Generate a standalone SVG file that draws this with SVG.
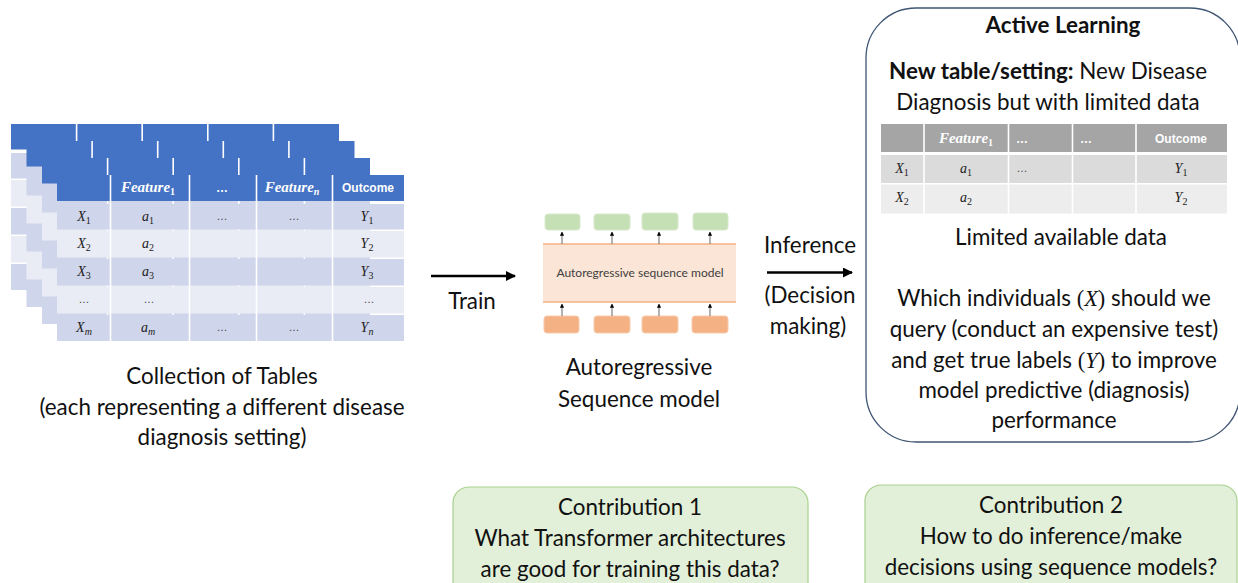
<svg xmlns="http://www.w3.org/2000/svg" width="1238" height="583" viewBox="0 0 1238 583">
<defs>
<style>
.t{font-family:Lato,"Liberation Sans",sans-serif;fill:#111;text-anchor:middle;font-size:22.4px}
.m{font-family:"Liberation Serif",serif;font-style:italic;fill:#222;text-anchor:middle;font-size:14px}
.m tspan,.mh tspan{font-style:normal}
.m tspan.i,.mh tspan.i{font-style:italic}
.mh{font-family:"Liberation Serif",serif;font-style:italic;font-weight:bold;fill:#fff;text-anchor:middle;font-size:15px}
.hb{font-family:"Liberation Sans",sans-serif;font-weight:bold;fill:#fff;text-anchor:middle;font-size:12px}
.dots{font-family:"Liberation Sans",sans-serif;fill:#444;text-anchor:middle;font-size:11px}
.hdr{fill:#4472C4}
.dk{fill:#CFD5EA}
.lt{fill:#E9EBF5}
.sep{stroke:#fff;stroke-width:1.6}
.green{fill:#C5E0B4;stroke:#D6E9CB;stroke-width:1}
.orange{fill:#F4B183;stroke:#F8CBAD;stroke-width:1}
.small{stroke:#808080;stroke-width:1.2;fill:none}
.big{stroke:#000;stroke-width:2.5;fill:none}
.contrib{fill:#E2F0D9;stroke:#A9D18E;stroke-width:1.2}
</style>
<marker id="ah" viewBox="0 0 10 10" refX="9" refY="5" markerWidth="4" markerHeight="4" orient="auto"><path d="M0,0 L10,5 L0,10 z" fill="#000"/></marker>
<marker id="as" viewBox="0 0 10 10" refX="9" refY="5" markerWidth="3.5" markerHeight="3.5" orient="auto"><path d="M0,0 L10,5 L0,10 z" fill="#000"/></marker>
<g id="backTable">
<rect class="hdr" x="0" y="0" width="328" height="25.5"/>
<rect class="dk" x="0" y="29" width="328" height="25.5"/>
<rect class="lt" x="0" y="56" width="328" height="26.5"/>
<rect class="dk" x="0" y="84" width="328" height="26.5"/>
<rect class="lt" x="0" y="112" width="328" height="26.5"/>
<rect class="dk" x="0" y="140" width="328" height="26"/>
<path class="sep" d="M65.6,0V166M131.2,0V166M196.8,0V166M262.4,0V166"/>
</g>
</defs>
<rect width="1238" height="583" fill="#fff"/>

<g id="tables">
<use href="#backTable" x="11" y="124"/>
<use href="#backTable" x="26.5" y="141"/>
<use href="#backTable" x="42" y="158"/>
<g id="frontTable">
<rect class="hdr" x="57" y="175" width="347" height="26"/>
<rect class="dk" x="57" y="204" width="347" height="25.5"/>
<rect class="lt" x="57" y="231" width="347" height="26.5"/>
<rect class="dk" x="57" y="259" width="347" height="26.5"/>
<rect class="lt" x="57" y="287" width="347" height="26.5"/>
<rect class="dk" x="57" y="315" width="347" height="26"/>
<path class="sep" d="M110.5,175V341M189.5,175V341M256.5,175V341M332.5,175V341"/>
<text class="mh" x="148" y="192">Feature<tspan font-size="10" dy="3">1</tspan></text>
<text class="hb" x="222" y="192">…</text>
<text class="mh" x="292" y="192">Feature<tspan class="i" font-size="10" dy="3">n</tspan></text>
<text class="hb" x="368" y="192">Outcome</text>
<text class="m" x="84" y="221">X<tspan font-size="10" dy="3">1</tspan></text>
<text class="m" x="148" y="221">a<tspan font-size="10" dy="3">1</tspan></text>
<text class="dots" x="222" y="220">…</text>
<text class="dots" x="294" y="220">…</text>
<text class="m" x="367" y="221">Y<tspan font-size="10" dy="3">1</tspan></text>
<text class="m" x="84" y="248">X<tspan font-size="10" dy="3">2</tspan></text>
<text class="m" x="148" y="248">a<tspan font-size="10" dy="3">2</tspan></text>
<text class="m" x="367" y="248">Y<tspan font-size="10" dy="3">2</tspan></text>
<text class="m" x="84" y="276">X<tspan font-size="10" dy="3">3</tspan></text>
<text class="m" x="148" y="276">a<tspan font-size="10" dy="3">3</tspan></text>
<text class="m" x="367" y="276">Y<tspan font-size="10" dy="3">3</tspan></text>
<text class="dots" x="84" y="303">…</text>
<text class="dots" x="149" y="303">…</text>
<text class="dots" x="369" y="303">…</text>
<text class="m" x="84" y="332">X<tspan class="i" font-size="10" dy="3">m</tspan></text>
<text class="m" x="148" y="332">a<tspan class="i" font-size="10" dy="3">m</tspan></text>
<text class="dots" x="222" y="331">…</text>
<text class="dots" x="294" y="331">…</text>
<text class="m" x="367" y="332">Y<tspan class="i" font-size="10" dy="3">n</tspan></text>
</g>
<text class="t" x="222" y="384">Collection of Tables</text>
<text class="t" x="222" y="415">(each representing a different disease</text>
<text class="t" x="222" y="445">diagnosis setting)</text>
</g>

<g id="model">
<rect x="543" y="244" width="193" height="58" fill="#FBE5D6"/>
<path d="M543,244H736M543,302H736" stroke="#F4B183" stroke-width="1.5"/>
<text x="640" y="277" font-family="Lato,'Liberation Sans',sans-serif" font-size="12" fill="#404040" text-anchor="middle">Autoregressive sequence model</text>
<rect class="green" x="545" y="214" width="35" height="16" rx="3"/>
<rect class="green" x="594" y="214" width="36" height="16" rx="3"/>
<rect class="green" x="642" y="213" width="36" height="17" rx="3"/>
<rect class="green" x="693" y="213" width="35" height="17" rx="3"/>
<rect class="orange" x="544" y="316" width="35" height="17" rx="3"/>
<rect class="orange" x="594" y="316" width="36" height="17" rx="3"/>
<rect class="orange" x="642" y="316" width="36" height="17" rx="3"/>
<rect class="orange" x="692" y="316" width="36" height="17" rx="3"/>
<text class="t" x="639" y="375">Autoregressive</text>
<text class="t" x="639" y="407">Sequence model</text>
</g>

<g id="activeLearning">
<rect x="866" y="8" width="374" height="434" rx="50" ry="50" fill="#fff" stroke="#3F5573" stroke-width="1.3"/>
<text class="t" font-weight="bold" x="1063" y="33">Active Learning</text>
<text class="t" x="1048" y="79"><tspan font-weight="bold">New table/setting:</tspan> New Disease</text>
<text class="t" x="1048" y="110">Diagnosis but with limited data</text>
<g id="smallTable">
<rect x="881" y="124" width="346" height="28" fill="#A5A5A5"/>
<rect x="881" y="155" width="346" height="28" fill="#DBDBDB"/>
<rect x="881" y="184.5" width="346" height="29" fill="#EDEDED"/>
<path class="sep" d="M924,124V214M1008.5,124V214M1072.5,124V214M1136,124V214"/>
<text class="mh" x="966" y="143">Feature<tspan font-size="10" dy="3">1</tspan></text>
<text class="hb" x="1022" y="143">…</text>
<text class="hb" x="1086" y="143">…</text>
<text class="hb" font-size="13.5" x="1181" y="143">Outcome</text>
<text class="m" x="902" y="173">X<tspan font-size="10" dy="3">1</tspan></text>
<text class="m" x="966" y="173">a<tspan font-size="10" dy="3">1</tspan></text>
<text class="dots" x="1022" y="172">…</text>
<text class="m" x="1181" y="173">Y<tspan font-size="10" dy="3">1</tspan></text>
<text class="m" x="902" y="202">X<tspan font-size="10" dy="3">2</tspan></text>
<text class="m" x="966" y="202">a<tspan font-size="10" dy="3">2</tspan></text>
<text class="m" x="1181" y="202">Y<tspan font-size="10" dy="3">2</tspan></text>
</g>
<text class="t" x="1061" y="245">Limited available data</text>
<text class="t" x="1054" y="306">Which individuals <tspan font-family="'Liberation Serif',serif">(<tspan font-style="italic">X</tspan>)</tspan> should we</text>
<text class="t" x="1054" y="337">query (conduct an expensive test)</text>
<text class="t" x="1054" y="368">and get true labels <tspan font-family="'Liberation Serif',serif">(<tspan font-style="italic">Y</tspan>)</tspan> to improve</text>
<text class="t" x="1054" y="398">model predictive (diagnosis)</text>
<text class="t" x="1054" y="428">performance</text>
</g>

<g id="contribution1">
<rect class="contrib" x="453" y="487" width="355" height="115" rx="16"/>
<text class="t" x="630" y="515">Contribution 1</text>
<text class="t" x="630" y="546">What Transformer architectures</text>
<text class="t" x="630" y="577">are good for training this data?</text>
</g>
<g id="contribution2">
<rect class="contrib" x="865" y="485" width="372" height="115" rx="16"/>
<text class="t" x="1051" y="513">Contribution 2</text>
<text class="t" x="1051" y="544">How to do inference/make</text>
<text class="t" x="1051" y="575">decisions using sequence models?</text>
</g>

<g id="labels">
<text class="t" x="472" y="309">Train</text>
<text class="t" x="810" y="253">Inference</text>
<text class="t" x="810" y="303">(Decision</text>
<text class="t" x="808" y="334">making)</text>
</g>

<g id="connectors">
<path class="big" d="M431,276H515" marker-end="url(#ah)"/>
<path class="big" d="M767,272.5H852" marker-end="url(#ah)"/>
<path class="small" d="M562,244V232" marker-end="url(#as)"/>
<path class="small" d="M612,244V232" marker-end="url(#as)"/>
<path class="small" d="M659,244V232" marker-end="url(#as)"/>
<path class="small" d="M710,244V232" marker-end="url(#as)"/>
<path class="small" d="M562,316V304" marker-end="url(#as)"/>
<path class="small" d="M612,316V304" marker-end="url(#as)"/>
<path class="small" d="M659,316V304" marker-end="url(#as)"/>
<path class="small" d="M710,316V304" marker-end="url(#as)"/>
</g>
</svg>
